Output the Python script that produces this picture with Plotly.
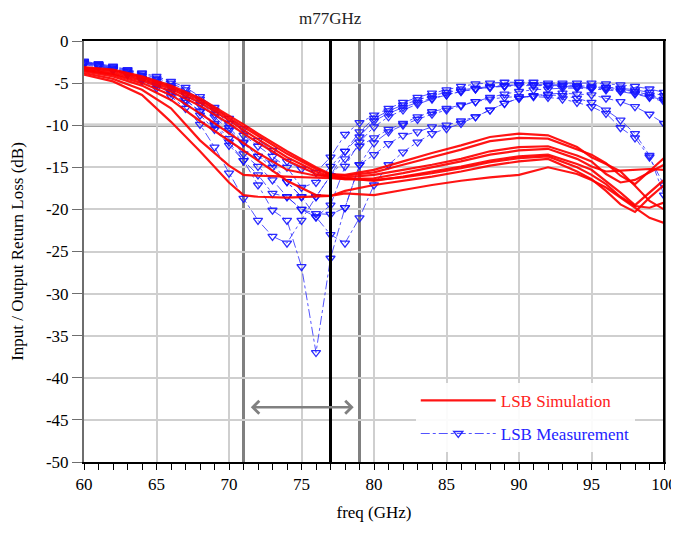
import plotly.graph_objects as go

# ---------------- data ----------------
freq_meas = list(range(60, 101))
freq_sim = [60, 62, 64, 66, 68, 70, 71, 72, 74, 76, 77, 78, 80, 82, 84, 86, 88, 90,
            92, 94, 95, 96, 97, 98, 99, 100]

sim_T1 = [-3.1, -3.4, -4.2, -5.3, -6.8, -8.8, -9.9, -11.0, -13.1, -15.0, -15.8,
          -15.9, -15.3, -14.3, -13.3, -12.4, -11.4, -11.0, -11.2, -12.6, -13.8, -14.6, -15.5, -17.2, -19.0, -20.0]
sim_T2 = [-3.2, -3.5, -4.3, -5.5, -7.0, -9.1, -10.2, -11.3, -13.4, -15.2, -15.9,
          -16.0, -15.6, -14.7, -13.8, -12.9, -11.9, -11.5, -11.6, -12.9, -13.5, -14.5, -16.0, -17.0, -15.5, -13.9]
sim_T3 = [-3.3, -3.7, -4.5, -5.7, -7.3, -9.4, -10.6, -11.7, -13.8, -15.5, -16.1,
          -16.2, -15.9, -15.3, -14.7, -14.0, -13.1, -12.6, -12.5, -13.6, -14.3, -15.8, -16.8, -16.5, -15.6, -14.7]
sim_T4 = [-3.4, -3.9, -4.7, -6.0, -7.7, -9.8, -11.0, -12.1, -14.2, -15.8, -16.2,
          -16.4, -16.3, -15.7, -15.0, -14.3, -13.5, -13.0, -12.8, -14.0, -14.9, -15.5, -15.4, -15.3, -15.2, -15.3]
sim_L4 = [-3.5, -4.0, -5.0, -6.4, -8.6, -11.0, -12.2, -13.3, -15.3, -16.0, -16.0,
          -16.3, -16.6, -16.1, -15.5, -14.9, -14.2, -13.7, -13.5, -14.6, -15.3, -16.6, -18.0, -19.5, -18.0, -16.5]
sim_L3 = [-3.6, -4.2, -5.3, -7.0, -9.5, -11.8, -13.0, -14.2, -16.6, -18.3, -18.4,
          -17.8, -17.1, -16.6, -16.1, -15.5, -14.8, -14.3, -14.0, -15.5, -16.4, -17.8, -19.4, -20.3, -18.6, -17.1]
sim_L2 = [-3.8, -4.5, -5.8, -8.0, -11.8, -14.8, -15.9, -16.0, -16.1, -16.2, -16.3,
          -16.4, -16.5, -16.2, -15.7, -15.1, -14.4, -13.9, -13.7, -15.0, -15.9, -17.0, -18.5, -19.6, -19.8, -19.2]
sim_L1 = [-4.0, -4.8, -6.4, -9.6, -13.1, -16.8, -18.3, -18.5, -18.6, -18.5, -18.4,
          -18.1, -18.3, -17.7, -17.1, -16.6, -16.2, -15.9, -15.0, -15.8, -16.5, -17.4, -18.6, -19.9, -21.0, -21.6]

meas_M1 = [-2.4, -2.7, -3.0, -3.4, -3.8, -4.2, -4.8, -5.5, -6.6, -7.9,
           -9.2, -10.4, -11.8, -13.0, -14.3, -15.2, -15.6, -13.8, -11.1, -9.7,
           -8.8, -8.0, -7.3, -6.7, -6.2, -5.8, -5.4, -5.1, -5.0, -4.9,
           -4.9, -4.9, -5.0, -5.0, -5.0, -5.0, -5.1, -5.2, -5.4, -5.7, -6.1]
meas_M2 = [-2.5, -2.8, -3.1, -3.5, -3.9, -4.4, -5.0, -5.8, -6.9, -8.2,
           -9.8, -11.2, -12.5, -13.7, -15.0, -17.4, -16.8, -14.9, -13.1, -11.4,
           -9.5, -8.6, -7.9, -7.3, -6.8, -6.4, -6.0, -5.7, -5.5, -5.4,
           -5.3, -5.3, -5.3, -5.3, -5.4, -5.5, -5.5, -5.6, -5.8, -6.1, -6.5]
meas_M3 = [-2.6, -2.9, -3.3, -3.7, -4.2, -4.8, -5.5, -6.4, -7.6, -9.0,
           -10.6, -12.1, -13.7, -14.5, -16.7, -18.5, -20.9, -19.5, -14.9, -12.0,
           -10.2, -9.0, -8.2, -7.5, -6.9, -6.4, -6.0, -5.7, -5.5, -5.3,
           -5.2, -5.2, -5.3, -5.4, -5.5, -5.6, -5.7, -5.9, -6.2, -6.6, -7.0]
meas_M4 = [-2.7, -3.0, -3.4, -3.9, -4.5, -5.2, -6.0, -7.0, -8.3, -9.8,
           -11.6, -13.4, -14.9, -16.5, -18.5, -20.0, -20.9, -23.0, -24.0, -21.0,
           -17.1, -14.7, -13.2, -12.0, -11.0, -10.4, -9.8, -9.0, -8.2, -7.4,
           -6.8, -6.5, -6.3, -6.2, -6.3, -6.4, -6.8, -7.2, -7.8, -8.7, -9.8]
meas_M5 = [-2.5, -2.9, -3.3, -3.8, -4.4, -5.1, -6.0, -7.0, -8.4, -10.0,
           -12.0, -14.2, -17.1, -20.1, -21.3, -26.8, -37.0, -25.8, -19.8, -14.7,
           -12.1, -10.8, -10.0, -9.3, -8.7, -8.2, -7.7, -7.2, -6.7, -6.3,
           -6.0, -5.8, -5.7, -5.6, -5.6, -5.7, -5.8, -6.0, -6.3, -6.7, -7.2]
meas_M6 = [-2.8, -3.1, -3.5, -4.0, -4.7, -5.6, -6.6, -8.0, -9.9, -12.6,
           -15.7, -18.7, -21.3, -23.2, -24.0, -21.3, -18.5, -16.0, -14.0, -12.5,
           -11.5, -10.5, -9.8, -9.0, -8.4, -8.0, -7.6, -7.2, -6.9, -6.7,
           -6.6, -6.6, -6.7, -6.9, -7.3, -7.8, -8.6, -10.3, -11.5, -13.8, -17.1]
meas_M7 = [-2.6, -3.0, -3.4, -3.9, -4.5, -5.3, -6.2, -7.3, -8.8, -10.5,
           -12.4, -14.2, -15.9, -18.1, -18.5, -20.0, -20.5, -20.6, -19.8, -14.7,
           -13.5, -12.2, -11.2, -10.8, -10.2, -10.0, -9.5, -9.0, -8.2, -7.4,
           -6.8, -6.5, -6.4, -6.5, -6.8, -7.3, -8.2, -9.4, -11.0, -13.6, -18.3]
meas_M8 = [-2.5, -2.8, -3.2, -3.6, -4.1, -4.6, -5.3, -6.2, -7.3, -8.7,
           -10.3, -12.0, -13.7, -15.0, -16.7, -18.5, -18.5, -16.0, -13.1, -10.8,
           -9.2, -8.3, -7.6, -7.0, -6.5, -6.1, -5.8, -5.6, -5.4, -5.3,
           -5.2, -5.2, -5.2, -5.2, -5.3, -5.4, -5.5, -5.7, -6.0, -6.4, -6.9]

sim_series = [sim_T1, sim_T2, sim_T3, sim_T4, sim_L4, sim_L3, sim_L2, sim_L1]
meas_series = [meas_M1, meas_M2, meas_M3, meas_M4, meas_M5, meas_M6, meas_M7, meas_M8]

x_tickvals = [60, 65, 70, 75, 80, 85, 90, 95, 100]
x_ticktext = ["60", "65", "70", "75", "80", "85", "90", "95", "100"]
y_tickvals = [0, -5, -10, -15, -20, -25, -30, -35, -40, -45, -50]
y_ticktext = ["0", "-5", "-10", "-15", "-20", "-25", "-30", "-35", "-40", "-45", "-50"]

band_low, band_high, marker_freq, spec_level = 71, 79, 77, -10

# ---------------- figure ----------------
FONT = "'Liberation Serif', 'Times New Roman', 'DejaVu Serif', serif"
fig = go.Figure()

for i, ys in enumerate(meas_series):
    fig.add_trace(go.Scatter(
        x=freq_meas, y=ys, mode="lines+markers",
        name="<span style='color:#2222ff'>LSB Measurement</span>",
        showlegend=(i == 0), legendrank=2, legendgroup="meas",
        line=dict(color="rgba(40,40,255,0.8)", width=1, dash="dashdot"),
        marker=dict(symbol="triangle-down-open", size=8,
                    color="rgba(20,20,255,0.9)", line=dict(width=1.3)),
    ))

for i, ys in enumerate(sim_series):
    fig.add_trace(go.Scatter(
        x=freq_sim, y=ys, mode="lines",
        name="<span style='color:#ff2020'>LSB Simulation</span>",
        showlegend=(i == 0), legendrank=1, legendgroup="sim",
        line=dict(color="rgba(255,0,0,0.92)", width=2.2),
    ))

# reference lines
fig.add_shape(type="line", x0=band_low, x1=band_low, y0=0, y1=1, xref="x", yref="paper",
              line=dict(color="#808080", width=3), layer="between")
fig.add_shape(type="line", x0=band_high, x1=band_high, y0=0, y1=1, xref="x", yref="paper",
              line=dict(color="#808080", width=3), layer="between")
fig.add_shape(type="line", x0=0, x1=1, y0=spec_level, y1=spec_level, xref="paper", yref="y",
              line=dict(color="#808080", width=3), layer="between")
# right border black
fig.add_shape(type="line", x0=1, x1=1, y0=0, y1=1, xref="paper", yref="paper",
              line=dict(color="black", width=2), layer="above")
# marker line
fig.add_shape(type="line", x0=marker_freq, x1=marker_freq, y0=0, y1=1, xref="x", yref="paper",
              line=dict(color="black", width=3), layer="above")
fig.add_shape(type="path", xref="x", yref="y", xsizemode="pixel", ysizemode="pixel",
              xanchor=marker_freq, yanchor=0, path="M -7,12 L 7,12 L 0,0 Z",
              fillcolor="black", line=dict(color="black", width=1), layer="above")
fig.add_shape(type="path", xref="x", yref="y", xsizemode="pixel", ysizemode="pixel",
              xanchor=marker_freq, yanchor=-50, path="M -7,-11 L 7,-11 L 0,1 Z",
              fillcolor="black", line=dict(color="black", width=1), layer="above")

fig.add_annotation(x=marker_freq, y=1, xref="x", yref="paper", text="m77GHz",
                   showarrow=False, yanchor="bottom", yshift=11,
                   font=dict(family=FONT, size=17, color="#222"))

# double arrow (band)
fig.add_annotation(x=band_high - 0.4, y=-43.5, ax=band_low + 0.4, ay=-43.5,
                   xref="x", yref="y", axref="x", ayref="y", text="",
                   showarrow=True, arrowhead=4, startarrowhead=4, arrowside="end+start",
                   arrowsize=1, arrowwidth=2.5, arrowcolor="#808080")

# the page has an 8px body margin, so the figure is kept smaller than the window
fig.update_layout(
    width=671, height=514,
    margin=dict(l=76, r=15, t=33, b=60),
    paper_bgcolor="white", plot_bgcolor="white",
    font=dict(family=FONT, size=17, color="black"),
    showlegend=True,
    legend=dict(x=0.572, y=0.188, xanchor="left", yanchor="top",
                bgcolor="rgba(255,255,255,0.9)", borderwidth=0,
                font=dict(family=FONT, size=17), itemwidth=75,
                tracegroupgap=8),
    xaxis=dict(range=[60, 100], tickvals=x_tickvals, ticktext=x_ticktext,
               ticklabeloverflow="allow",
               showgrid=True, gridcolor="#cfcfcf", gridwidth=1.5,
               showline=True, linecolor="black", linewidth=1.5, mirror=True,
               ticks="outside", ticklen=6, tickcolor="black",
               tickfont=dict(family=FONT, size=17),
               minor=dict(dtick=1, ticks="outside", ticklen=6, tickcolor="black", showgrid=False),
               title=dict(text="freq (GHz)", font=dict(family=FONT, size=17), standoff=15),
               zeroline=False, automargin=False),
    yaxis=dict(range=[-50, 0], tickvals=y_tickvals, ticktext=y_ticktext,
               showgrid=True, gridcolor="#cfcfcf", gridwidth=1.5,
               showline=True, linecolor="#6e6e6e", linewidth=2, mirror=True,
               ticks="outside", ticklen=10, tickcolor="#6e6e6e",
               tickfont=dict(family=FONT, size=17),
               title=dict(text="Input / Output Return Loss (dB)",
                          font=dict(family=FONT, size=17), standoff=20),
               zeroline=False, automargin=False),
)

fig.write_html("out.html")
